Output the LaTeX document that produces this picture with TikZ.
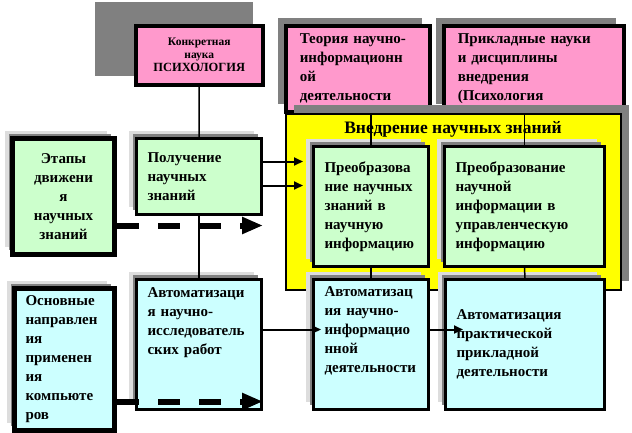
\documentclass[tikz,border=0pt]{standalone}
\usepackage{fontspec}
\setmainfont{Liberation Serif}
\usetikzlibrary{arrows.meta,shadows}

\definecolor{rozovyj}{HTML}{FF99CC}
\definecolor{zelenyj}{HTML}{CCFFCC}
\definecolor{goluboj}{HTML}{CCFFFF}
\definecolor{zheltyj}{HTML}{FFFF00}
\definecolor{seryj}{HTML}{808080}
\definecolor{svetloseryj}{HTML}{DDDDDD}

\begin{document}
\begin{tikzpicture}[
    x=1pt, y=-1pt,
    font=\bfseries\fontsize{15}{19}\selectfont,
    blok/.style={draw, line width=3pt, anchor=north west, align=left, inner xsep=11pt, inner ysep=2pt},
    dveteni/.style={general shadow={fill=svetloseryj, shadow xshift=-8pt, shadow yshift=8pt},
                    general shadow={fill=seryj, shadow xshift=-4pt, shadow yshift=5pt}},
    rozblok/.style={blok, fill=rozovyj, line width=3.5pt, inner xsep=14pt,
                    general shadow={fill=seryj, shadow xshift=-8pt, shadow yshift=8pt}},
    zelblok/.style={blok, fill=zelenyj, dveteni},
    golblok/.style={blok, fill=goluboj, dveteni},
    svyaz/.style={line width=1.5pt},
    strelka/.style={line width=2pt, -{Triangle[length=9pt,width=8pt]}},
    puncir/.style={line width=6pt, dash pattern=on 22pt off 19pt, -{Triangle[length=21pt,width=16pt]}}
]
    \useasboundingbox (0,0) rectangle (632,432);

    % Верхний ряд
    \fill[seryj] (95,2) rectangle (253,76);
    \node[blok, fill=rozovyj, line width=3.5pt, align=center, minimum width=127, minimum height=59,
          font=\bfseries\fontsize{11.5}{13}\selectfont] (psy) at (134,24)
        {Конкретная\\наука\\{\fontsize{12.5}{15}\selectfont ПСИХОЛОГИЯ}};
    \node[rozblok, minimum width=144, minimum height=86, text width=116pt] (theory) at (284,24)
        {Теория научно-\\информационн\\ой\\деятельности};
    \node[rozblok, minimum width=180, minimum height=86, text width=152pt] (applied) at (442,24)
        {Прикладные науки\\и дисциплины\\внедрения\\(Психология};

    % Внедрение
    \node[draw, line width=1.5pt, fill=zheltyj, anchor=north west, minimum width=335, minimum height=176,
          general shadow={fill=seryj, shadow xshift=8pt, shadow yshift=9pt}] (vnedrenie) at (285,113) {};
    \node[font=\bfseries\fontsize{17.5}{19}\selectfont] (vnedrtitle) at (453,129) {Внедрение научных знаний};

    % Этапы движения научных знаний
    \node[zelblok, line width=5pt, align=center, minimum width=102, minimum height=116, text width=80pt] (stage) at (10,136)
        {Этапы\\движени\\я\\научных\\знаний};
    \node[zelblok, minimum width=125, minimum height=76, text width=103pt] (get) at (135,137)
        {Получение\\научных\\знаний};
    \node[zelblok, minimum width=115, minimum height=120, text width=93pt] (trans) at (312,145)
        {Преобразова\\ние научных\\знаний в\\научную\\информацию};
    \node[zelblok, minimum width=160, minimum height=120, text width=138pt] (conv) at (443,145)
        {Преобразование\\научной\\информации в\\управленческую\\информацию};

    % Применение компьютеров
    \node[golblok, line width=5pt, minimum width=100, minimum height=142, text width=78pt] (main) at (12,286)
        {Основные\\направлен\\ия\\применен\\ия\\компьюте\\ров};
    \node[golblok, minimum width=125, minimum height=130, text width=103pt, text depth=104pt] (auto1) at (135,278)
        {Автоматизаци\\я научно-\\исследователь\\ских работ};
    \node[golblok, minimum width=115, minimum height=130, text width=93pt, text depth=106pt] (auto2) at (312,278)
        {Автоматизац\\ия научно-\\информацио\\нной\\деятельности};
    \node[golblok, minimum width=159, minimum height=130, text width=137pt] (auto3) at (444,278)
        {Автоматизация\\практической\\прикладной\\деятельности};

    % Связи
    \draw[svyaz] (psy.south) -- (get.north);
    \draw[svyaz] (get.south) -- (auto1.north);
    \draw[svyaz] (trans.north) -- (trans.north |- theory.south);
    \draw[svyaz] (conv.north) -- (conv.north |- applied.south);
    \draw[svyaz] (trans.south) -- (auto2.north);
    \draw[svyaz] (conv.south) -- (auto3.north);

    \coordinate (g1) at ([yshift=15pt]get.east);
    \coordinate (g2) at ([yshift=-9pt]get.east);
    \draw[strelka, shorten >=9pt] (g1) -- (g1 -| trans.west);
    \draw[strelka, shorten >=9pt] (g2) -- (g2 -| trans.west);

    \coordinate (a1) at ([yshift=15pt]auto1.east);
    \coordinate (a2) at ([yshift=15pt]auto2.east);
    \draw[strelka, shorten >=-9pt] (a1) -- (a1 -| auto2.west);
    \draw[strelka, shorten >=-19pt] (a2) -- (a2 -| auto3.west);

    \coordinate (s1) at ([yshift=-29pt]stage.east);
    \coordinate (m1) at ([yshift=-42pt]main.east);
    \draw[puncir] (s1) -- (s1 -| get.east);
    \draw[puncir] (m1) -- (m1 -| auto1.east);
\end{tikzpicture}
\end{document}
